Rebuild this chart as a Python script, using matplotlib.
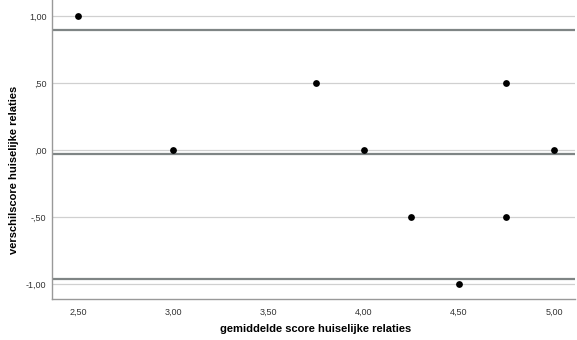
import matplotlib
matplotlib.use("Agg")
import matplotlib.pyplot as plt
from matplotlib.ticker import FixedLocator, FuncFormatter

mean_score = [2.50, 3.00, 3.75, 4.00, 4.25, 4.50, 4.75, 4.75, 5.00]
diff_score = [1.00, 0.00, 0.50, 0.00, -0.50, -1.00, 0.50, -0.50, 0.00]
ref_lines = [0.898, -0.032, -0.963]
xticks = [2.50, 3.00, 3.50, 4.00, 4.50, 5.00]
yticks = [-1.00, -0.50, 0.00, 0.50, 1.00]

plt.rcParams['font.family'] = ['Liberation Sans', 'DejaVu Sans']

W, H = 577, 340
fig = plt.figure(figsize=(W/100, H/100), dpi=100)
ax = fig.add_axes([52/W, 1 - 299/H, (575 - 52)/W, 299/H])

for y in yticks:
    ax.axhline(y, color='#d0d0d0', lw=0.9, zorder=1)
for y in ref_lines:
    ax.axhline(y, color='#7f8585', lw=1.6, zorder=2)

ax.scatter(mean_score, diff_score, s=24, color='black', zorder=3, linewidths=0)

ax.set_xlim(2.363, 5.11)
ax.set_ylim(-1.112, 1.119)

def fmt(v, pos):
    s = f"{v:.2f}".replace('.', ',')
    if s.startswith('0,'):
        s = s[1:]
    elif s.startswith('-0,'):
        s = '-' + s[2:]
    return s

ax.xaxis.set_major_locator(FixedLocator(xticks))
ax.yaxis.set_major_locator(FixedLocator(yticks))
ax.xaxis.set_major_formatter(FuncFormatter(fmt))
ax.yaxis.set_major_formatter(FuncFormatter(fmt))
ax.tick_params(length=0, labelsize=6.5, colors='#333333', pad=6)
ax.tick_params(axis='y', pad=4)

for side in ['top', 'right']:
    ax.spines[side].set_visible(False)
for side in ['left', 'bottom']:
    ax.spines[side].set_color('#999999')
    ax.spines[side].set_linewidth(1.0)

fig.text(316/W, 1 - 329/H, 'gemiddelde score huiselijke relaties', fontsize=8, fontweight='bold',
         ha='center', va='center')
fig.text(14/W, 1 - 170/H, 'verschilscore huiselijke relaties', fontsize=8, fontweight='bold',
         ha='center', va='center', rotation=90)

fig.savefig('out.png', dpi=100)
